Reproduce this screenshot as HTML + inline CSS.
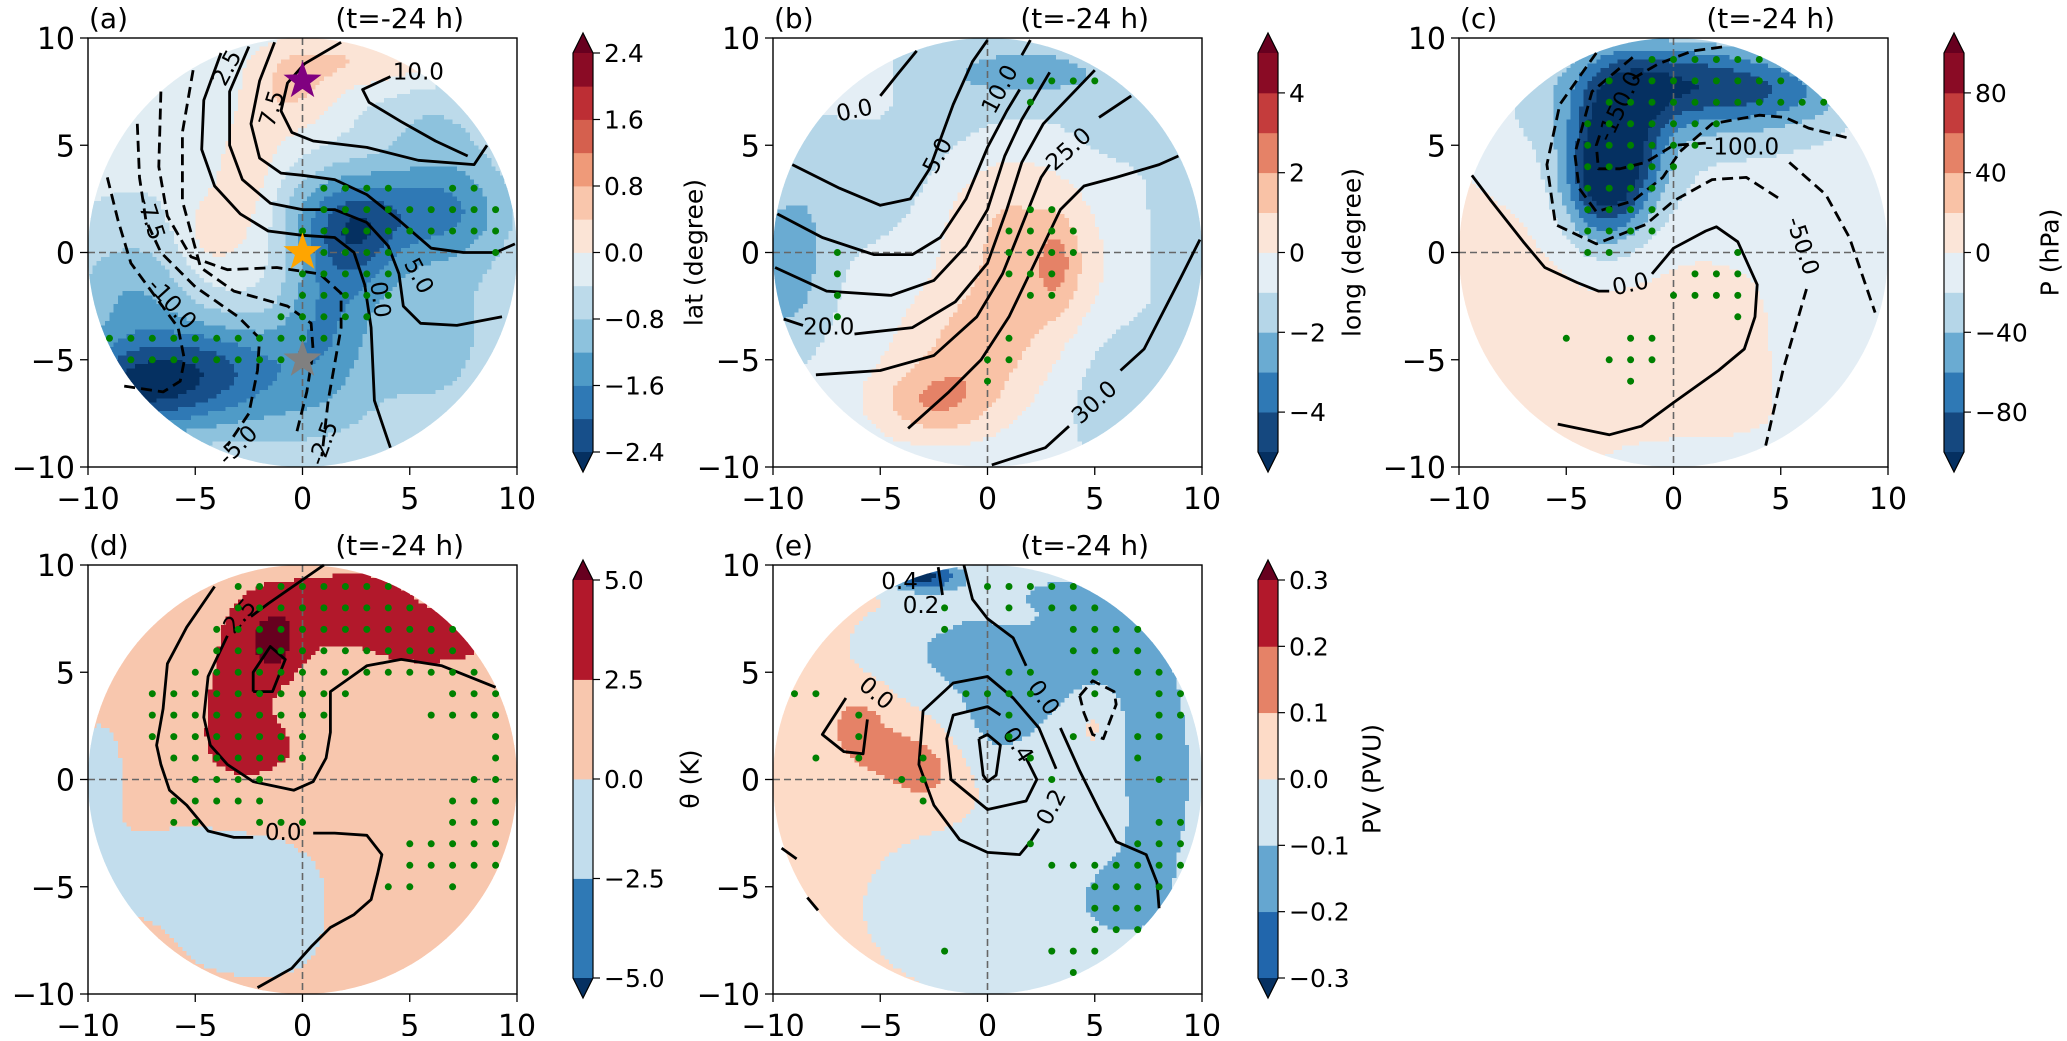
<!DOCTYPE html>
<html><head><meta charset="utf-8"><title>Composite panels</title>
<style>
html,body{margin:0;padding:0;background:#fff;}
svg text{font-family:"DejaVu Sans","Liberation Sans",sans-serif;fill:#000;}
</style></head>
<body>
<svg id="fig" xmlns="http://www.w3.org/2000/svg" width="2067" height="1036" viewBox="0 0 2067 1036">
<rect x="0" y="0" width="2067" height="1036" fill="#fff"/>
<defs id="defs"></defs>
</svg>
<script>
// ---------------- DATA ----------------
// Gaussian field components: [amplitude, cx, cy, sx, sy] (data units)
const baseA = -0.35;
const compsA = [[0.7,-2.5,3,1.2,2.5],[0.7,-0.5,7.5,1.5,1.5],[0.7,3,9,3,1],[0.5,-4.5,1,1,1.5],
  [-1.2,2.5,0.5,1.5,1.8],[-0.9,3,2,3.5,1.5],[-1.0,1,-3,1.5,2.5],[-1.8,-8,-6.5,3,1.5],
  [-1.2,-4,-5,3,1.5],[-0.8,-8,-2,2,2],[-0.8,7,2,2,2],[-0.6,6,-4,2.5,3],[-0.4,6,6,2,1.5],[-0.5,-1,-7.5,3,1.5]];
const baseB = -0.6;
const compsB = [[1.6,2,-1,2.5,2.2],[1.8,-0.5,-4.5,2.5,2],[2.2,-2.5,-7,2,1.2],[1.2,0.5,2.5,2.5,2],
  [1.4,3.3,-0.5,0.7,1.5],[-2.0,-9.5,-1,1.5,2.5],[-1,-6,3,3,2],[-1.6,2,8.5,3.5,1.2],[-0.8,-3,6,3,2],
  [-1.2,6.5,-6.5,2,2.5],[-0.8,9,1,1.5,3],[-0.8,6,6,2,1.5],[0.9,-5.5,7.3,1,1]];
const baseC = 8;
const compsC = [[-75,0,8,3.5,1.5],[-90,-2.5,5,1.5,2.5],[-60,-3.5,3,1.3,2],[-40,5,7.5,3,1.2],
  [-25,2,5,7,3.5],[-20,8,-5,2.5,5],[-15,1,-10,4,1.2],[-14,-7,6.5,2,2]];
const baseD = 1.2;
const compsD = [[2.6,-3,3,1.2,2],[2.6,-1.5,7,1.6,1.5],[2.4,2.5,8.2,2.2,1.2],[2.4,6,6.5,2.2,0.9],
  [2.0,-2,1.5,1.3,0.8],[2.5,-1.3,6.2,0.7,1.0],[-2.3,-5,-4.5,4,2],[-1.7,-1,-6.5,1.5,1.8],
  [-2,-9.5,0.5,1,2],[-1.6,-3,-8,2,1]];
const baseE = 0.03;
const compsE = [[-0.2,4,6.5,3.5,3],[-0.18,8,0,1.5,3.5],[-0.09,6.5,-5.5,1.5,1.5],[-0.12,0.5,3,1.5,2],
  [-0.1,2,-6,5,3],[-0.1,-2.5,6,2.5,1.5],[0.08,5,3,0.8,1.2],[0.07,1.5,7.5,1,0.5],
  [0.11,-3,0.3,1.3,1.1],[0.11,-6,2.5,1.0,1.2],[0.08,-4.5,1.3,1.2,0.8],[-0.35,-3,9.5,1.2,0.5]];

// colour levels
const levelsA = [-2.4,-2.0,-1.6,-1.2,-0.8,-0.4,0,0.4,0.8,1.2,1.6,2.0,2.4];
const levelsB = [-5,-4,-3,-2,-1,0,1,2,3,4,5];
const levelsC = [-100,-80,-60,-40,-20,0,20,40,60,80,100];
const levelsD = [-5,-2.5,0,2.5,5];
const levelsE = [-0.3,-0.2,-0.1,0,0.1,0.2,0.3];
const colorsA = ['#174f8a','#2f79b5','#4f9bc7','#8dc2dd','#bcdaea','#e1edf3','#fbe4d6','#f9c6ac','#ef9a79','#d5604e','#bd2e34','#8a0b25'];
const colors10 = ['#15487f','#2f79b5','#6aabd2','#b5d6e8','#e4eef5','#fbe5d8','#f9c2a6','#e58267','#c43c3c','#8a0b25'];
const colorsD = ['#2f79b5','#c2dded','#f8c7ae','#b2182b'];
const colorsE = ['#2166ac','#65a6d0','#d3e6f1','#fddbc7','#e58267','#b2182b'];
const underC = '#053061', overC = '#67001f';

// colorbar ticks
const cbTicksA = [2.4,1.6,0.8,0.0,-0.8,-1.6,-2.4];
const cbLabelsA = ['2.4','1.6','0.8','0.0','\u22120.8','\u22121.6','\u22122.4'];
const cbTicksB = [4,2,0,-2,-4];
const cbLabelsB = ['4','2','0','\u22122','\u22124'];
const cbTicksC = [80,40,0,-40,-80];
const cbLabelsC = ['80','40','0','\u221240','\u221280'];
const cbTicksD = [5,2.5,0,-2.5,-5];
const cbLabelsD = ['5.0','2.5','0.0','\u22122.5','\u22125.0'];
const cbTicksE = [0.3,0.2,0.1,0,-0.1,-0.2,-0.3];
const cbLabelsE = ['0.3','0.2','0.1','0.0','\u22120.1','\u22120.2','\u22120.3'];

const axTicks = [-10,-5,0,5,10];
const axTickLabels = ['\u221210','\u22125','0','5','10'];

// significance dots [x,y]
const dotsA = [[1,3],[2,3],[3,3],[4,3],[7,3],[8,3],
 [1,2],[2,2],[3,2],[4,2],[5,2],[6,2],[7,2],[8,2],[9,2],
 [0,1],[1,1],[2,1],[3,1],[4,1],[5,1],[6,1],[7,1],[8,1],[9,1],
 [1,0],[2,0],[3,0],[4,0],[9,0],
 [0,-1],[1,-1],[2,-1],[3,-1],[4,-1],
 [0,-2],[1,-2],[2,-2],[3,-2],[4,-2],
 [-1,-3],[0,-3],[1,-3],[2,-3],[3,-3],
 [-9,-4],[-8,-4],[-7,-4],[-6,-4],[-5,-4],[-4,-4],[-3,-4],[-2,-4],[-1,-4],[0,-4],[1,-4],
 [-8,-5],[-7,-5],[-6,-5],[-5,-5],[-4,-5],[-3,-5],[-2,-5],[-1,-5]];
const dotsB = [[2,8],[3,8],[4,8],[5,8],[2,7],[2,2],[3,2],[1,1],[2,1],[3,1],[4,1],
 [1,0],[2,0],[3,0],[4,0],[1,-1],[2,-1],[3,-1],[2,-2],[3,-2],[1,-4],[0,-5],[1,-5],[0,-6],
 [-7,0],[-7,-1],[-7,-2],[-7,-3]];
const dotsC = [[-1,9],[0,9],[1,9],[2,9],[3,9],[4,9],
 [-3,8],[-1,8],[0,8],[1,8],[2,8],[3,8],[4,8],[5,8],
 [-3,7],[-2,7],[-1,7],[0,7],[1,7],[2,7],[3,7],[4,7],[5,7],[6,7],[7,7],
 [-4,6],[-3,6],[-2,6],[-1,6],[0,6],[1,6],[2,6],
 [-4,5],[-3,5],[-2,5],[-1,5],[0,5],[1,5],
 [-4,4],[-3,4],[-2,4],[-1,4],[0,4],
 [-4,3],[-3,3],[-2,3],[-1,3],[-4,2],[-3,2],[-2,2],[-1,2],[-4,1],[-3,1],[-2,1],[-1,1],
 [-4,0],[-3,0],[3,0],[1,-1],[2,-1],[3,-1],[0,-2],[1,-2],[2,-2],[3,-2],[3,-3],
 [-5,-4],[-2,-4],[-1,-4],[-3,-5],[-2,-5],[-1,-5],[-2,-6]];
const dotsD = [[-3,9],[-2,9],[-1,9],[0,9],[1,9],[2,9],[3,9],[4,9],
 [-3,8],[-2,8],[-1,8],[0,8],[1,8],[2,8],[3,8],[4,8],[5,8],
 [-4,7],[-3,7],[-2,7],[-1,7],[0,7],[1,7],[2,7],[3,7],[4,7],[5,7],[6,7],[7,7],
 [-4,6],[-3,6],[-2,6],[-1,6],[0,6],[1,6],[2,6],[3,6],[4,6],[5,6],[6,6],[7,6],
 [-5,5],[-4,5],[-3,5],[-2,5],[-1,5],[0,5],[1,5],[2,5],[3,5],[4,5],[5,5],[6,5],[7,5],[8,5],
 [-7,4],[-6,4],[-5,4],[-4,4],[-3,4],[-2,4],[-1,4],[0,4],[1,4],[2,4],[7,4],[8,4],[9,4],
 [-7,3],[-6,3],[-5,3],[-4,3],[-3,3],[-2,3],[-1,3],[0,3],[1,3],[6,3],[7,3],[8,3],[9,3],
 [-7,2],[-6,2],[-5,2],[-4,2],[-3,2],[-2,2],[-1,2],[0,2],[9,2],
 [-6,1],[-5,1],[-4,1],[-3,1],[-2,1],[-1,1],[0,1],[9,1],
 [-5,0],[-4,0],[-3,0],[-2,0],[8,0],[9,0],
 [-6,-1],[-5,-1],[-4,-1],[-3,-1],[-2,-1],[7,-1],[8,-1],[9,-1],
 [-6,-2],[-5,-2],[-2,-2],[-1,-2],[0,-2],[7,-2],[8,-2],[9,-2],
 [5,-3],[6,-3],[7,-3],[8,-3],[9,-3],[5,-4],[6,-4],[7,-4],[8,-4],[9,-4],[4,-5],[5,-5],[7,-5]];
const dotsE = [[0,9],[1,9],[2,9],[3,9],[4,9],
 [-2,8],[1,8],[3,8],[4,8],[5,8],[-2,7],[4,7],[5,7],[6,7],[7,7],[4,6],[5,6],[6,6],[7,6],
 [1,5],[2,5],[5,5],[7,5],[8,5],
 [-9,4],[-8,4],[-1,4],[0,4],[1,4],[2,4],[5,4],[8,4],[9,4],
 [-6,3],[1,3],[8,3],[9,3],[-6,2],[1,2],[4,2],[7,2],[8,2],
 [-8,1],[-6,1],[-3,1],[2,1],[7,1],[-4,0],[-3,0],[3,0],[8,0],[-3,-1],
 [8,-2],[9,-2],[2,-3],[7,-3],[8,-3],[9,-3],
 [3,-4],[4,-4],[5,-4],[6,-4],[7,-4],[8,-4],[9,-4],[5,-5],[6,-5],[7,-5],[8,-5],
 [5,-6],[6,-6],[7,-6],[5,-7],[6,-7],[7,-7],[-2,-8],[3,-8],[4,-8],[5,-8],[4,-9]];

// contour polylines (data units); dashed flag
const linesA = [
 {d:false,p:[[-3.8,9.3],[-4.6,7.1],[-4.7,4.8],[-4.1,3.1],[-2.9,1.8],[-1.6,1.0],[0,0.8],[1.5,0.7],[2.4,0],[2.9,-1.5],[3.2,-3.5],[3.35,-6.9],[4.1,-9.1]]},
 {d:false,p:[[-2.5,9.6],[-3.4,7.5],[-3.4,5],[-2.8,3.4],[-1.5,2.3],[0,2.0],[1.5,2.0],[3.0,1.4],[4.0,0.3],[4.5,-1],[4.7,-2.5],[5.5,-3.3],[7.2,-3.4],[9.3,-3]]},
 {d:false,p:[[-1.3,9.8],[-2.0,8],[-2.4,6],[-2,4.4],[-1,3.7],[0,3.6],[1.5,3.4],[3,2.7],[4.5,1.5],[6,0.2],[7.5,0],[9,0],[9.9,0.4]]},
 {d:false,p:[[1.8,9.8],[0.1,8.8],[-0.7,7.9],[-1.0,6.6],[-0.5,5.6],[0.5,5.2],[3,4.9],[5.4,4.3],[8,4.1],[8.6,5]]},
 {d:false,p:[[4.1,8.2],[2.8,7.6],[3.1,7.0],[4.6,6.1],[6.2,5.2],[7.7,4.5]]},
 {d:true,p:[[-5.1,8.5],[-5.6,5.6],[-5.6,2.4],[-4.75,-0.7],[-3.2,-1.8],[-0.7,-2.5],[0.4,-3.3],[0.5,-4.6],[0.2,-6.5],[-0.3,-8.5]]},
 {d:true,p:[[-6.6,7.5],[-6.7,4],[-6.3,1.7],[-5.2,-0.2],[-3.5,-0.8],[-1.2,-0.7],[0.8,-1.0],[1.8,-1.9],[1.8,-3.5],[1.2,-6.9],[0.9,-9.5]]},
 {d:true,p:[[-7.7,6],[-7.6,3.5],[-7.3,1.5],[-6.6,0],[-5,-1.6],[-3.0,-3],[-2,-4],[-2.1,-5.5],[-2.5,-7.5],[-3.5,-9]]},
 {d:true,p:[[-9.1,3.5],[-8.6,1.5],[-8,-0.5],[-6.9,-2],[-5.8,-3.5],[-5.5,-5],[-5.7,-6],[-6.5,-6.5],[-8.5,-6.2]]}];
const linesB = [
 {d:false,p:[[-3.3,9.4],[-4.2,8.3],[-5.0,7.3]]},
 {d:false,p:[[-9.1,4.1],[-6.9,3],[-5,2.2],[-3.6,2.5],[-2.7,3.9],[-1.6,6.9],[-0.7,8.9],[0,9.9]]},
 {d:false,p:[[-9.8,1.8],[-7.7,0.7],[-5.3,-0.1],[-3.5,-0.1],[-2.2,0.7],[-1,2.5],[0,4.9],[0.9,6.6],[1.5,7.6]]},
 {d:false,p:[[1.6,9.2],[2.0,9.9]]},
 {d:false,p:[[-9.9,-0.7],[-7.5,-1.8],[-4.5,-2],[-2.5,-1.3],[-1,0.3],[0,2],[0.8,4.5],[1.6,6.2],[2.9,8.4]]},
 {d:false,p:[[-9.5,-3.1],[-8.6,-3.4]]},
 {d:false,p:[[-6.2,-3.8],[-3.5,-3.5],[-1.5,-2.3],[0,-0.5],[0.9,2],[1.6,4.2],[2.6,6],[5,8.5]]},
 {d:false,p:[[-8,-5.7],[-5,-5.5],[-2.5,-4.8],[-0.5,-3],[0.7,-1],[1.3,0.5],[2.5,3.5],[2.9,4.1]]},
 {d:false,p:[[5.2,6.3],[6.7,7.3]]},
 {d:false,p:[[-3.7,-8.2],[-1.8,-6.5],[-0.3,-5],[1,-3],[2.2,-0.5],[3.4,2.0],[4.5,3.1],[6,3.5],[8,4.1],[8.9,4.5]]},
 {d:false,p:[[0.2,-9.9],[2.7,-9.1],[3.8,-8.1]]},
 {d:false,p:[[6.2,-5.5],[7.3,-4.5],[9,-1.2],[9.9,0.6]]}];
const linesC = [
 {d:false,p:[[-9.4,3.6],[-8.5,2.4],[-7,0.5],[-6,-0.7],[-4.5,-1.4],[-3.5,-1.8],[-3.0,-1.8]]},
 {d:false,p:[[-1,-1.0],[0,0.2],[1.5,1],[2,1.2],[3,0.5],[3.9,-1.5],[3.8,-3],[3.3,-4.5],[2.1,-5.5],[0,-7],[-1.5,-8.1],[-3,-8.5],[-5.4,-8.0]]},
 {d:true,p:[[-3.6,9.3],[-5.3,6.9],[-5.9,4.1],[-5.5,1.3],[-3.6,0.4],[-1.3,1.3],[0,2.4],[1.8,3.4],[3.4,3.5],[5.1,2.4]]},
 {d:true,p:[[6.2,-1.7],[5.1,-5.5],[4.3,-9]]},
 {d:true,p:[[-1.9,9.1],[-3.8,7.5],[-4.6,4.6],[-4.4,3],[-3.6,1.9],[-1.9,2.4],[-0.5,3.5],[0.3,4.7],[1.8,6],[4,6.4],[5.2,6.3],[6.3,5.8],[8.3,5.3]]},
 {d:true,p:[[1.5,5.1],[0,5],[-1.3,4.2],[-2.5,3.9],[-3.5,3.9],[-3.6,5],[-3.4,5.6]]},
 {d:true,p:[[-1.9,8.1],[-0.7,8.8],[0.9,9.4],[2.4,9.6]]},
 {d:true,p:[[5.4,4.2],[7.1,2.7],[8.2,0.7],[9.4,-2.8]]}];
const linesD = [
 {d:false,p:[[-4.1,9.0],[-5.4,7.1],[-6.3,5.4],[-6.5,3.3],[-6.8,1.6],[-6.6,0.7],[-6.2,-0.5],[-5.4,-1.2],[-4.4,-2.4],[-3.2,-2.7],[-2.3,-2.7]]},
 {d:false,p:[[0.5,-2.5],[1.5,-2.5],[3,-2.6],[3.7,-3.5],[3.5,-4.4],[3.2,-5.6],[2.4,-6.3],[1.3,-6.9],[0.4,-7.8],[-0.5,-8.8],[-2.1,-9.7]]},
 {d:false,p:[[1,10],[-1.6,8.2],[-2.4,7.6]]},
 {d:false,p:[[-3.5,6.7],[-4.4,4.8],[-4.6,2.9],[-4.3,1.6],[-3.5,0.7],[-2.3,-0.1],[-0.4,-0.5],[0.5,-0.1],[1.1,1.0],[1.3,2.2],[1.3,4.1],[2.3,4.8],[3,5.3],[4.6,5.6],[6.5,5.3],[8,4.7],[9,4.3]]},
 {d:false,p:[[-2.3,4.1],[-2.3,5.0],[-1.5,6.2],[-0.8,5.6],[-1.4,4.1],[-2.3,4.1]]}];
const linesE = [
 {d:false,p:[[-1.1,10],[-0.7,8.4],[0,7.5],[1.2,6.6],[1.8,5.3]]},
 {d:false,p:[[3.4,2.4],[4.3,0.4],[5.2,-1.4],[6,-2.9],[7.4,-3.5],[7.9,-4.8],[8,-6]]},
 {d:false,p:[[3.2,0.5],[2.4,2.4],[1.2,3.8],[0,4.8],[-1.6,4.5],[-3,3.2],[-3.2,0.7],[-2.5,-1.2],[-1.3,-2.8],[0,-3.4],[1.5,-3.5],[2,-2.9],[2.4,-2.3]]},
 {d:false,p:[[0.6,3.0],[0,3.4],[-1.6,3],[-1.9,1.9],[-1.7,0],[0,-1.4],[1.8,-1],[2.3,0],[1.8,1.0]]},
 {d:false,p:[[-0.4,1.9],[0,2.1],[0.6,1.6],[0.4,0.2],[0,-0.1],[-0.2,0.2],[-0.4,1.9]]},
 {d:false,p:[[-6.6,3.8],[-7.7,2.1],[-6.7,1.3],[-5.8,1.2],[-5.6,2.8]]},
 {d:true,p:[[4.3,3.9],[4.9,4.6],[5.9,4.1],[6,3.5],[5.4,1.9],[4.9,2.1],[4.5,3.1],[4.3,3.9]]},
 {d:false,p:[[-2.3,9.9],[-2.1,8.6]]},
 {d:false,p:[[-9.6,-3.2],[-8.9,-3.7]]},
 {d:false,p:[[-8.4,-5.5],[-7.9,-6.1]]}];

// contour label texts [text, x, y, rotation]
const labA = [['2.5',-3.5,8.6,-62],['7.5',-1.4,6.7,-72],['10.0',5.4,8.4,0],['-7.5',-7.1,1.6,72],
 ['-10.0',-6.1,-2.4,48],['5.0',5.4,-1.1,62],['0.0',3.6,-2.2,82],['-5.0',-3.0,-9.0,-45],['-2.5',1.0,-8.9,-70]];
const labB = [['0.0',-6.2,6.6,-12],['5.0',-2.3,4.5,-62],['10.0',0.6,7.6,-62],['25.0',3.8,4.8,-42],['20.0',-7.4,-3.5,0],['30.0',5.0,-7.0,-42]];
const labC = [['-150.0',-2.5,6.8,-65],['-100.0',3.2,4.9,0],['-50.0',6.0,0.3,72],['0.0',-2.0,-1.5,-12]];
const labD = [['2.5',-2.9,7.6,-50],['0.0',-0.9,-2.5,0]];
const labE = [['0.0',-5.2,4.0,40],['0.0',2.6,3.8,55],['0.4',1.4,1.6,58],['0.2',3.0,-1.3,-62],['0.4',-4.1,9.2,0],['0.2',-3.1,8.1,0]];

// stars in panel (a) [x,y]
const starsA = [[0,8],[0,0],[0,-5]];
const starColors = ['#800080','#ffa500','#808080'];

// ---------------- DRAWING ----------------
const NS='http://www.w3.org/2000/svg';
const svg=document.getElementById('fig');
const defs=document.getElementById('defs');
const S=429/20;
const P={a:{x0:88,y0:38},b:{x0:773,y0:38},c:{x0:1459,y0:38},d:{x0:88,y0:565},e:{x0:773,y0:565}};
function X(p,x){return P[p].x0+(x+10)*S;}
function Y(p,y){return P[p].y0+(10-y)*S;}
function mk(tag,attrs,parent){const e=document.createElementNS(NS,tag);for(const k in attrs)e.setAttribute(k,attrs[k]);(parent||svg).appendChild(e);return e;}
function fieldVal(base,comps,x,y){let v=base;for(const c of comps){v+=c[0]*Math.exp(-((x-c[1])*(x-c[1])/(2*c[3]*c[3])+(y-c[2])*(y-c[2])/(2*c[4]*c[4])));}return v;}
function colorOf(v,levels,colors){if(v<levels[0])return underC;if(v>=levels[levels.length-1])return overC;for(let i=0;i<colors.length;i++){if(v<levels[i+1])return colors[i];}return overC;}

function drawPanel(p,base,comps,levels,colors,lines,labels,dots,letter){
  const g=mk('g',{});
  
  
  const cp=mk('clipPath',{id:'clip-'+p},defs);
  mk('circle',{cx:X(p,0),cy:Y(p,0),r:10*S},cp);
  const fg=mk('g',{'shape-rendering':'crispEdges','clip-path':'url(#clip-'+p+')'},g);
  
  
  const st=0.2, n=100;
  for(let j=0;j<n;j++){
    const y=10-(j+0.5)*st;
    let runStart=-1,runCol=null;
    for(let i=0;i<=n;i++){
      let col=null;
      if(i<n){const x=-10+(i+0.5)*st; if(x*x+y*y<=110){col=colorOf(fieldVal(base,comps,x,y),levels,colors);}}
      if(col!==runCol){
        if(runCol!==null){
          const x1=X(p,-10+runStart*st), x2=X(p,-10+i*st);
          mk('rect',{x:x1.toFixed(2),y:Y(p,10-j*st).toFixed(2),width:(x2-x1+0.6).toFixed(2),height:(st*S+0.6).toFixed(2),fill:runCol},fg);
        }
        runCol=col;runStart=i;
      }
    }
  }
  const cl=mk('g',{stroke:'#666','stroke-width':1.6,'stroke-dasharray':'7,4',fill:'none'},g);
  
  
  mk('line',{x1:X(p,0),y1:Y(p,10),x2:X(p,0),y2:Y(p,-10)},cl);
  mk('line',{x1:X(p,-10),y1:Y(p,0),x2:X(p,10),y2:Y(p,0)},cl);
  const lg=mk('g',{stroke:'#000','stroke-width':2.8,fill:'none','stroke-linejoin':'round','stroke-linecap':'butt'},g);
  
  
  lines.forEach((ln)=>{
    const d=ln.p.map((pt,i)=>(i?'L':'M')+X(p,pt[0]).toFixed(1)+','+Y(p,pt[1]).toFixed(1)).join(' ');
    const path=mk('path',{d:d},lg);
    if(ln.d)path.setAttribute('stroke-dasharray','11,6');
    
    
  });
  labels.forEach(l=>{
    const cx=X(p,l[1]),cy=Y(p,l[2]);
    const t=mk('text',{x:cx,y:cy,'font-size':23,'text-anchor':'middle','dominant-baseline':'central',transform:'rotate('+l[3]+' '+cx+' '+cy+')'},g);
    t.textContent=l[0];
    
    
  });
  const dg=mk('g',{fill:'#008000'},g);
  
  
  dots.forEach(dt=>{
    const c=mk('circle',{cx:X(p,dt[0]).toFixed(1),cy:Y(p,dt[1]).toFixed(1),r:3.5},dg);
    
    
  });
  const fr=mk('rect',{x:P[p].x0,y:P[p].y0,width:429,height:429,fill:'none',stroke:'#000','stroke-width':1.4},g);
  
  
  const tg=mk('g',{},g);
  
  
  axTicks.forEach((v,i)=>{
    mk('line',{x1:X(p,v),y1:Y(p,-10),x2:X(p,v),y2:Y(p,-10)+8,stroke:'#000','stroke-width':1.3},tg);
    mk('line',{x1:X(p,-10),y1:Y(p,v),x2:X(p,-10)-8,y2:Y(p,v),stroke:'#000','stroke-width':1.3},tg);
    const tx=mk('text',{x:X(p,v),y:Y(p,-10)+42,'font-size':30,'text-anchor':'middle'},tg);
    tx.textContent=axTickLabels[i];
    
    
    const ty=mk('text',{x:X(p,-10)-13,y:Y(p,v)+11,'font-size':30,'text-anchor':'end'},tg);
    ty.textContent=axTickLabels[i];
    
    
  });
  const t1=mk('text',{x:P[p].x0+1,y:P[p].y0-10,'font-size':28},g);
  t1.textContent='('+letter+')';
  
  
  const t2=mk('text',{x:P[p].x0+376,y:P[p].y0-10,'font-size':28,'text-anchor':'end'},g);
  t2.textContent='(t=-24 h)';
  
  
  return g;
}

function drawColorbar(name,x,yTop,yBot,levels,colors,ticks,tickLabels,label,labelX){
  const g=mk('g',{});
  
  
  const w=20, lo=levels[0], hi=levels[levels.length-1];
  const vy=v=>yBot-(v-lo)/(hi-lo)*(yBot-yTop);
  colors.forEach((c,i)=>{
    const y1=vy(levels[i+1]),y2=vy(levels[i]);
    const r=mk('rect',{x:x,y:y1.toFixed(2),width:w,height:(y2-y1+0.4).toFixed(2),fill:c},g);
    
    
  });
  const ah=20;
  mk('path',{d:`M${x},${yTop} L${x+w/2},${yTop-ah} L${x+w},${yTop} Z`,fill:overC},g);
  mk('path',{d:`M${x},${yBot} L${x+w/2},${yBot+ah} L${x+w},${yBot} Z`,fill:underC},g);
  mk('path',{d:`M${x},${yTop} L${x+w/2},${yTop-ah} L${x+w},${yTop} L${x+w},${yBot} L${x+w/2},${yBot+ah} L${x},${yBot} Z`,fill:'none',stroke:'#000','stroke-width':1.2},g);
  ticks.forEach((v,i)=>{
    const y=vy(v);
    mk('line',{x1:x+w,y1:y,x2:x+w+7,y2:y,stroke:'#000','stroke-width':1.2},g);
    const t=mk('text',{x:x+w+11,y:y+9,'font-size':25},g);
    t.textContent=tickLabels[i];
    
    
  });
  const cy=(yTop+yBot)/2;
  const t=mk('text',{x:labelX,y:cy,'font-size':25,'text-anchor':'middle','dominant-baseline':'central',transform:`rotate(-90 ${labelX} ${cy})`},g);
  t.textContent=label;
  
  
}

function starPath(cx,cy,R){const r=R*0.4;let d='';for(let i=0;i<10;i++){const a=-Math.PI/2+i*Math.PI/5;const rr=i%2?r:R;d+=(i?'L':'M')+(cx+rr*Math.cos(a)).toFixed(1)+','+(cy+rr*Math.sin(a)).toFixed(1);}return d+'Z';}

const ga=drawPanel('a',baseA,compsA,levelsA,colorsA,linesA,labA,dotsA,'a');
starsA.forEach((s,i)=>{
  const st=mk('path',{d:starPath(X('a',s[0]),Y('a',s[1]),20),fill:starColors[i]},ga);
  
  
});
drawPanel('b',baseB,compsB,levelsB,colors10,linesB,labB,dotsB,'b');
drawPanel('c',baseC,compsC,levelsC,colors10,linesC,labC,dotsC,'c');
drawPanel('d',baseD,compsD,levelsD,colorsD,linesD,labD,dotsD,'d');
drawPanel('e',baseE,compsE,levelsE,colorsE,linesE,labE,dotsE,'e');

drawColorbar('colorbar-a',573,53,452,levelsA,colorsA,cbTicksA,cbLabelsA,'lat (degree)',694);
drawColorbar('colorbar-b',1258,53,452,levelsB,colors10,cbTicksB,cbLabelsB,'long (degree)',1352);
drawColorbar('colorbar-c',1944,53,452,levelsC,colors10,cbTicksC,cbLabelsC,'P (hPa)',2050);
drawColorbar('colorbar-d',573,580,978,levelsD,colorsD,cbTicksD,cbLabelsD,'\u03B8 (K)',690);
drawColorbar('colorbar-e',1258,580,978,levelsE,colorsE,cbTicksE,cbLabelsE,'PV (PVU)',1372);
</script>
</body></html>
